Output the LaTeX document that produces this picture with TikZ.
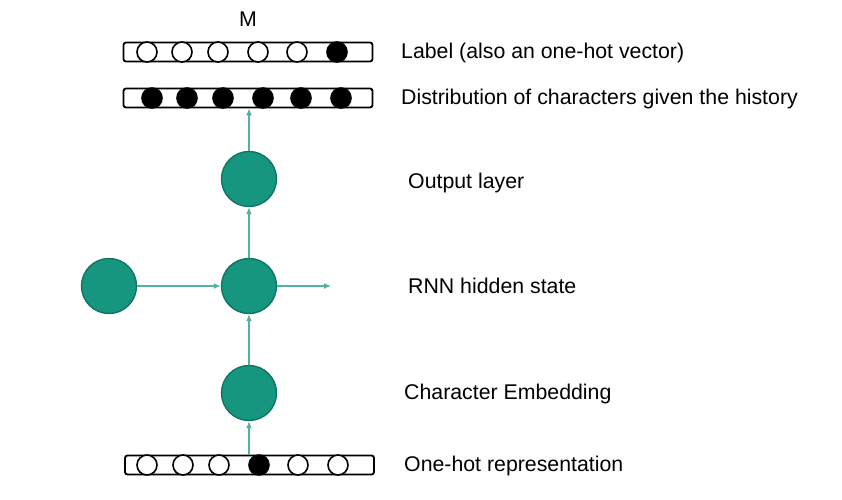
\documentclass[tikz,border=0pt]{standalone}
\usepackage{fontspec}
\setmainfont{Liberation Sans}
\usetikzlibrary{arrows.meta}
\definecolor{tealfill}{HTML}{17967F}
\definecolor{tealedge}{HTML}{0F7563}
\definecolor{tealline}{HTML}{4FB39E}
\begin{document}
\begin{tikzpicture}[x=1pt,y=-1pt,
  unit/.style={circle,minimum size=55pt,inner sep=0pt,fill=tealfill,draw=tealedge,line width=1.4pt},
  vecbar/.style={draw=black,line width=1.8pt,rounded corners=2.5pt,minimum width=249pt,minimum height=19pt,inner sep=0pt},
  emptybit/.style={circle,minimum size=20pt,inner sep=0pt,draw=black,line width=1.6pt,fill=white},
  fullbit/.style={circle,minimum size=20pt,inner sep=0pt,draw=black,line width=1.6pt,fill=black},
  conn/.style={draw=tealline,line width=1.3pt,-{Latex[length=7pt,width=6pt]}},
  lbl/.style={anchor=west,inner sep=0pt,font=\fontsize{21.3}{24}\selectfont}
]
\useasboundingbox (0,0) rectangle (842,499);
% top label vector
\node[vecbar] (labelbar) at (248,52) {};
\foreach \x/\s [count=\i] in {147/emptybit,182/emptybit,218/emptybit,258/emptybit,297/emptybit,337/fullbit}
  \node[\s] (lb\i) at (\x,52) {};
\node[font=\fontsize{21.3}{24}\selectfont] (mlbl) at (248,19) {M};
% distribution vector
\node[vecbar] (distbar) at (248,98) {};
\foreach \x [count=\i] in {152,187,223,263,301,341}
  \node[fullbit] (db\i) at (\x,98) {};
% bottom one-hot
\node[vecbar] (onehot) at (249.5,465) {};
\foreach \x/\s [count=\i] in {147/emptybit,183/emptybit,219/emptybit,259/fullbit,298/emptybit,338/emptybit}
  \node[\s] (ob\i) at (\x,465) {};
% units
\node[unit] (out) at (249,179) {};
\node[unit] (rnn) at (249,286) {};
\node[unit] (prev) at (109,286) {};
\node[unit] (emb) at (249,393) {};
\coordinate (nextstate) at (331,286);
% connectors
\draw[conn] (onehot.north -| emb) -- (emb.south);
\draw[conn] (emb) -- (rnn);
\draw[conn] (rnn) -- (out);
\draw[conn] (out.north) -- (distbar.south -| out);
\draw[conn] (prev) -- (rnn);
\draw[conn] (rnn.east) -- (nextstate);
% labels
\node[lbl] (t1) at (401,53) {Label (also an one-hot vector)};
\node[lbl] (t2) at (401,99) {Distribution of characters given the history};
\node[lbl] (t3) at (408,183) {Output layer};
\node[lbl] (t4) at (408,286) {RNN hidden state};
\node[lbl] (t5) at (404,394) {Character Embedding};
\node[lbl] (t6) at (404,466) {One-hot representation};
\end{tikzpicture}
\end{document}
